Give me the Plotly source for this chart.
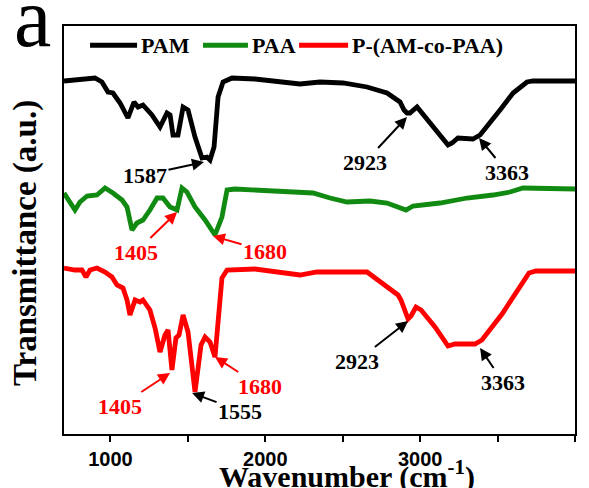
import plotly.graph_objects as go

# FTIR spectra (wavenumber in cm^-1, transmittance in a.u. with vertical offsets)
pam_wn = [700, 803, 900, 945, 984, 1016, 1062, 1113, 1152, 1178, 1210, 1268, 1320, 1365,
          1385, 1404, 1436, 1469, 1501, 1546, 1591, 1623, 1643, 1669, 1695, 1727, 1785,
          1933, 2147, 2224, 2353, 2502, 2657, 2786, 2870, 2896, 2915, 2934, 2980, 3083,
          3180, 3206, 3244, 3341, 3387, 3516, 3600, 3690, 3729, 4000]
pam_t = [353, 354, 356, 352, 342, 341, 331, 316, 332, 327, 329, 319, 307, 321,
         319, 299, 299, 327, 324, 297, 276, 277, 274, 287, 337, 352, 356,
         355, 351, 350, 352, 351, 347, 341, 332, 324, 321, 321, 327, 307,
         289, 291, 296, 295, 299, 324, 341, 352, 353, 353]

paa_wn = [700, 739, 771, 803, 849, 913, 965, 1016, 1075, 1107, 1139, 1171, 1210, 1255,
          1301, 1339, 1385, 1430, 1462, 1494, 1546, 1611, 1675, 1720, 1753, 1804, 2147,
          2308, 2418, 2528, 2676, 2786, 2909, 2954, 3128, 3303, 3470, 3580, 3664, 4000]
paa_t = [241, 232, 224, 232, 238, 239, 246, 241, 234, 227, 204, 211, 214, 224,
         236, 236, 227, 224, 246, 242, 227, 214, 199, 217, 244, 245, 243,
         241, 236, 232, 233, 231, 224, 228, 231, 236, 239, 242, 246, 245]

co_wn = [700, 771, 816, 842, 868, 913, 965, 1010, 1042, 1081, 1107, 1126, 1159, 1191,
         1210, 1255, 1288, 1320, 1352, 1372, 1397, 1423, 1443, 1469, 1501, 1546, 1585,
         1611, 1643, 1675, 1695, 1720, 1753, 1933, 2224, 2334, 2657, 2767, 2857, 2876,
         2902, 2922, 2941, 2973, 3006, 3096, 3180, 3225, 3354, 3399, 3529, 3638, 3703,
         3748, 4000]
co_t = [166, 164, 164, 157, 164, 166, 162, 157, 149, 146, 134, 119, 134, 132,
        134, 124, 106, 82, 99, 104, 64, 96, 99, 119, 102, 42, 89,
        97, 92, 77, 112, 156, 164, 165, 159, 162, 162, 150, 139, 134,
        122, 115, 118, 127, 124, 107, 88, 90, 90, 94, 120, 145, 161,
        163, 163]

series_names = ["PAM", "PAA", "P-(AM-co-PAA)"]
series_colors = ["#000000", "#108a10", "#ff0000"]

# Peak labels: (text, colour, label wn, label t, target wn, target t)
peak_labels = [
    ("1587", "#000000", 1223, 259, 1604, 272),
    ("2923", "#000000", 2644, 272, 2915, 317),
    ("3363", "#000000", 3561, 262, 3380, 296),
    ("1405", "#ff0000", 1165, 182, 1430, 222),
    ("1680", "#ff0000", 1998, 183, 1662, 198),
    ("1405", "#ff0000", 1062, 28, 1385, 61),
    ("1555", "#000000", 1837, 23, 1527, 41),
    ("1680", "#ff0000", 1966, 48, 1675, 77),
    ("2923", "#000000", 2592, 73, 2922, 113),
    ("3363", "#000000", 3535, 52, 3387, 86),
]

tick_vals = [1000, 2000, 3000, 4000]
tick_text = ["1000", "2000", "3000", "400"]

SERIF = "Liberation Serif"
SANS = "Liberation Sans"

fig = go.Figure()
for name, wn, t, col in zip(series_names, [pam_wn, paa_wn, co_wn], [pam_t, paa_t, co_t], series_colors):
    fig.add_trace(go.Scatter(x=wn, y=t, mode="lines", name=name,
                             line=dict(color=col, width=4.8),
                             showlegend=False))

# Peak annotations with arrows
for text, col, lx, ly, px, py in peak_labels:
    fig.add_annotation(x=px, y=py, ax=lx, ay=ly, xref="x", yref="y", axref="x", ayref="y",
                       text=text, showarrow=True, arrowhead=2, arrowsize=1.2,
                       arrowwidth=2, arrowcolor=col, standoff=0,
                       font=dict(family=SERIF, size=22, color=col, weight="bold"))

# Legend drawn inside the frame
legend_items = [
    (0.051, 0.143, 0.147),
    (0.272, 0.360, 0.364),
    (0.460, 0.556, 0.560),
]
for (x0, x1, xt), name, col in zip(legend_items, series_names, series_colors):
    fig.add_shape(type="line", xref="paper", yref="paper", x0=x0, x1=x1, y0=0.953, y1=0.953,
                  line=dict(color=col, width=5))
    fig.add_annotation(xref="paper", yref="paper", x=xt, y=0.953, xanchor="left",
                       yanchor="middle", text=name, showarrow=False,
                       font=dict(family=SERIF, size=22, color="#000000", weight="bold"))

# Panel letter
fig.add_annotation(xref="paper", yref="paper", x=-0.061, y=1.02, text="a",
                   showarrow=False, xanchor="center", yanchor="middle",
                   font=dict(family=SERIF, size=84, color="#000000"))

# Axis titles
fig.add_annotation(xref="paper", yref="paper", x=0.554, y=-0.1,
                   text="Wavenumber (cm<sup>-1</sup>)", showarrow=False,
                   xanchor="center", yanchor="middle",
                   font=dict(family=SERIF, size=30, color="#000000", weight="bold"))
fig.add_annotation(xref="paper", yref="paper", x=-0.0763, y=0.468,
                   text="Transmittance (a.u.)", showarrow=False, textangle=-90,
                   xanchor="center", yanchor="middle",
                   font=dict(family=SERIF, size=33, color="#000000", weight="bold"))

fig.update_xaxes(range=[700, 4000], showline=True, linewidth=2, linecolor="#000000",
                 mirror=True, showgrid=False, zeroline=False,
                 ticks="outside", ticklen=6, tickwidth=2, tickcolor="#000000",
                 tickvals=tick_vals, ticktext=tick_text, ticklabelstandoff=0,
                 minor=dict(tickvals=[1500, 2500, 3500], ticks="outside", ticklen=6,
                            tickwidth=2, tickcolor="#000000"),
                 tickfont=dict(family=SANS, size=20, color="#000000", weight="bold"),
                 automargin=False)
fig.update_yaxes(range=[0, 408], showline=True, linewidth=2, linecolor="#000000",
                 mirror=True, showgrid=False, zeroline=False, showticklabels=False,
                 ticks="", automargin=False)

fig.update_layout(width=589, height=488, margin=dict(l=64, r=14, t=26, b=54),
                  paper_bgcolor="#ffffff", plot_bgcolor="#ffffff", showlegend=False)

fig.write_html("out.html")
